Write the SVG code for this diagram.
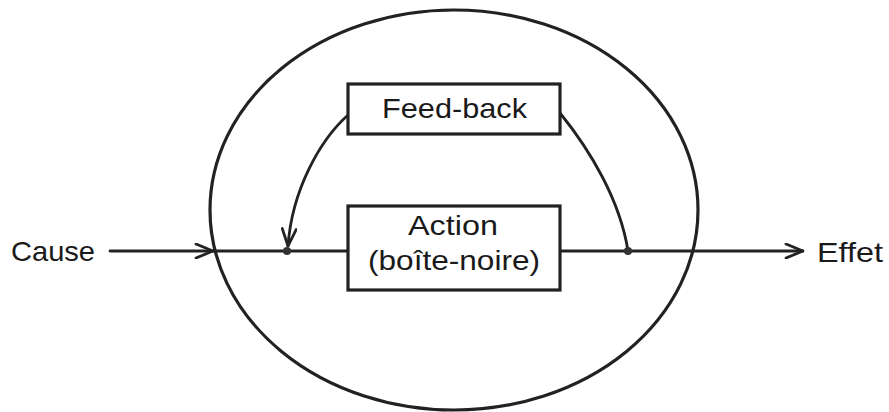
<svg xmlns="http://www.w3.org/2000/svg" width="889" height="412" viewBox="0 0 889 412">
<style>
.ln{fill:none;stroke:#222;stroke-width:2.8;stroke-linecap:round}
.bx{fill:#fff;stroke:#222;stroke-width:3.2}
.t{font-family:"Liberation Sans",Arial,sans-serif;fill:#1a1a1a;font-size:28px}
.ah{fill:none;stroke:#222;stroke-width:2.8;stroke-linejoin:miter;stroke-linecap:round}
</style>
<defs>
<marker id="arr" viewBox="0 0 20 16" refX="19" refY="8" markerWidth="20" markerHeight="16" markerUnits="userSpaceOnUse" orient="auto">
<path d="M2,1 L19,8 L2,15" class="ah"/>
</marker>
</defs>
<rect width="889" height="412" fill="#fff"/>
<g id="ellipse">
<ellipse cx="454" cy="210" rx="244" ry="200" fill="none" stroke="#222" stroke-width="3.2"/>
</g>
<g id="connectors">
<path class="ln" d="M110,251 L213,251" marker-end="url(#arr)"/>
<path class="ln" d="M213,251 L348,251"/>
<path class="ln" d="M560,251 L628,251"/>
<path class="ln" d="M628,251 L803,251" marker-end="url(#arr)"/>
<path class="ln" d="M348,115 C320,140 292,190 288,246" marker-end="url(#arr)"/>
<path class="ln" d="M560,113 C590,150 620,200 628,251"/>
<circle cx="287" cy="251" r="4" fill="#333"/>
<circle cx="628" cy="251" r="4" fill="#333"/>
</g>
<g id="cause">
<text class="t" x="11" y="261" font-size="30" textLength="84" lengthAdjust="spacingAndGlyphs">Cause</text>
</g>
<g id="effet">
<text class="t" x="817" y="262" font-size="30" textLength="66" lengthAdjust="spacingAndGlyphs">Effet</text>
</g>
<g id="feedback">
<rect class="bx" x="348" y="84" width="212" height="50"/>
<text class="t" x="382" y="118" textLength="145" lengthAdjust="spacingAndGlyphs">Feed-back</text>
</g>
<g id="action">
<rect class="bx" x="348" y="206" width="212" height="84"/>
<text class="t" x="408" y="235" textLength="90" lengthAdjust="spacingAndGlyphs">Action</text>
<text class="t" x="368" y="270" textLength="172" lengthAdjust="spacingAndGlyphs">(boîte-noire)</text>
</g>
</svg>
